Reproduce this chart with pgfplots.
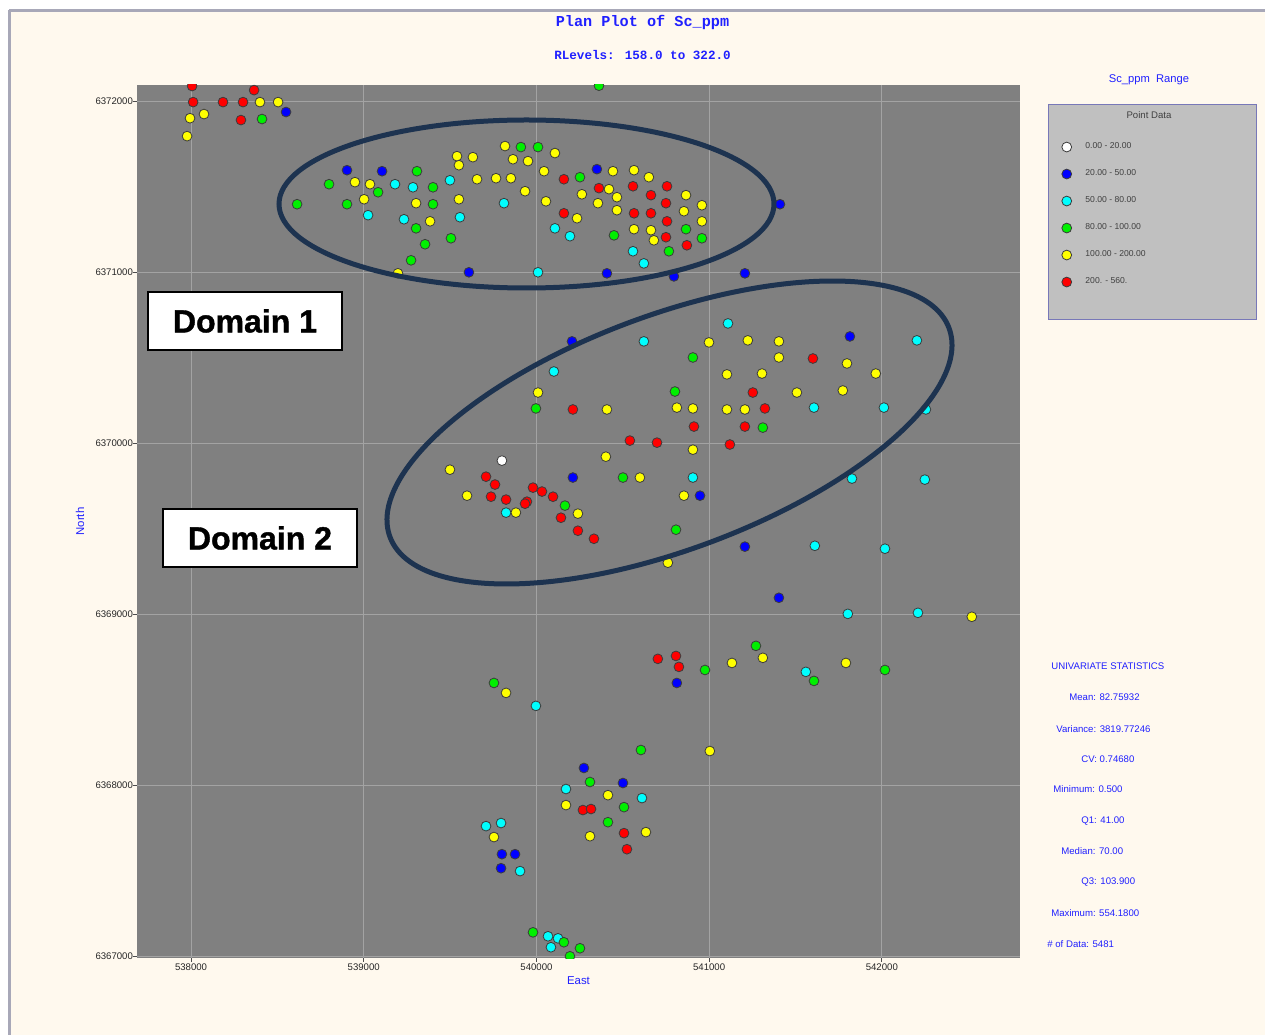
\documentclass[border=0pt]{standalone}
\usepackage{fontspec}
\setmainfont{Liberation Sans}
\newfontfamily\titlefont{Liberation Mono}
\newfontfamily\domfont[FakeBold=1.2]{Liberation Sans Bold}
\usepackage{pgfplots}
\pgfplotsset{compat=1.18}
\definecolor{cream}{HTML}{FFF9EE}
\definecolor{plotbg}{HTML}{808080}
\definecolor{gridc}{HTML}{A3A3A3}
\definecolor{txtblue}{HTML}{2020FF}
\definecolor{ptedge}{HTML}{3C3C3C}
\definecolor{ptblue}{HTML}{0000FF}
\definecolor{ptcyan}{HTML}{00FFFF}
\definecolor{ptgreen}{HTML}{00F000}
\definecolor{ptyellow}{HTML}{FFFF00}
\definecolor{ptred}{HTML}{FF0000}
\definecolor{legbg}{HTML}{C0C0C0}
\definecolor{legborder}{HTML}{7878B8}
\definecolor{legtxt}{HTML}{404040}
\definecolor{ellc}{HTML}{1D3350}
\definecolor{framec}{HTML}{A8A8B8}
\pgfplotsset{
  pt/.style={only marks, mark=*, mark size=2.45pt,
    mark options={fill=#1, draw=ptedge, line width=0.4pt, solid},
    legend image code/.code={\draw[##1] plot coordinates {(0pt,0pt)};}},
}
\begin{document}
\begin{tikzpicture}
\useasboundingbox (0,0) rectangle (632.5pt,517.5pt);
\fill[white] (0,0) rectangle (632.5pt,517.5pt);
\begin{scope}[x=0.5pt,y=-0.5pt,yshift=517.5pt]
  \fill[cream] (10,11) rectangle (1265,1035);
  \draw[framec, line width=1.2pt] (9,10.5) -- (1265,10.5);
  \draw[framec, line width=1.2pt] (9.5,10) -- (9.5,1035);
  % title
  \node[font=\titlefont\bfseries\fontsize{7.6}{9}\selectfont, text=txtblue] at (642.5,22.5) {Plan Plot of Sc\_ppm};
  \node[font=\titlefont\bfseries\fontsize{6.3}{8}\selectfont, text=txtblue] at (642.5,55) {RLevels: 158.0 to 322.0};
  % legend frame
  \node[font=\fontsize{5.6}{7}\selectfont, text=txtblue] at (1149,80) {Sc\_ppm\ \ Range};
  \filldraw[fill=legbg, draw=legborder, line width=0.5pt] (1048,105) rectangle (1256,320);
  \node[font=\fontsize{4.8}{6}\selectfont, text=legtxt] at (1149,115) {Point Data};
  % statistics
  \begin{scope}[every node/.style={anchor=west, inner sep=0pt, font=\fontsize{4.8}{6}\selectfont, text=txtblue}]
    \node at (1051,666) {UNIVARIATE STATISTICS};
    \node at (1069,697) {Mean: 82.75932};
    \node at (1056,729) {Variance: 3819.77246};
    \node at (1081,759) {CV: 0.74680};
    \node at (1053,789) {Minimum: 0.500};
    \node at (1081,821) {Q1: 41.00};
    \node at (1061,851) {Median: 70.00};
    \node at (1081,882) {Q3: 103.900};
    \node at (1051,913) {Maximum: 554.1800};
    \node at (1047,944) {\# of Data: 5481};
  \end{scope}
\end{scope}
\begin{axis}[
  at={(68.5pt,38.5pt)}, anchor=south west,
  scale only axis, width=441.5pt, height=436.5pt,
  xmin=537687, xmax=542800, ymin=6366990, ymax=6372094,
  axis background/.style={fill=plotbg},
  axis line style={draw=none},
  clip marker paths=true,
  grid=major, grid style={gridc, line width=0.5pt},
  xtick={538000,539000,540000,541000,542000},
  ytick={6367000,6368000,6369000,6370000,6371000,6372000},
  xtick pos=bottom, ytick pos=left, tick align=outside, major tick length=2pt,
  tick style={black!70, line width=0.4pt},
  scaled ticks=false,
  xticklabel style={font=\fontsize{4.8}{5}\selectfont, text=black!85, yshift=2.5pt,
    /pgf/number format/fixed, /pgf/number format/precision=0,
    /pgf/number format/1000 sep={}, /pgf/number format/assume math mode=true},
  yticklabel style={font=\fontsize{4.8}{5}\selectfont, text=black!85, xshift=3.5pt,
    /pgf/number format/fixed, /pgf/number format/precision=0,
    /pgf/number format/1000 sep={}, /pgf/number format/assume math mode=true},
  xlabel={East}, ylabel={North},
  label style={font=\fontsize{5.7}{7}\selectfont, text=txtblue},
  xlabel style={at={(axis description cs:0.5,-0.0263)}, anchor=center},
  ylabel style={at={(axis description cs:-0.0646,0.5)}, anchor=center},
  legend style={at={(axis description cs:1.0474,0.9444)}, anchor=north west,
    draw=none, fill=none, inner sep=0pt, outer sep=0pt,
    font=\fontsize{4.3}{5}\selectfont, text=legtxt,
    nodes={inner sep=0pt, minimum height=13.5pt},
    column sep=6.9pt, row sep=0pt},
  legend cell align=left,
]
\addplot[pt=white] table {
x y
539800 6369898
};
\addlegendentry{0.00 - 20.00}
\addplot[pt=ptblue] table {
x y
538550 6371936
538903 6371596
539106 6371590
540350 6371602
541410 6371397
539609 6370999
540408 6370993
540796 6370975
541207 6370993
540206 6370595
541815 6370624
540211 6369799
540947 6369693
541207 6369395
541404 6369096
540813 6368598
540275 6368101
540501 6368013
539800 6367597
539876 6367597
539795 6367515
};
\addlegendentry{20.00 - 50.00}
\addplot[pt=ptcyan] table {
x y
539181 6371514
539285 6371496
539499 6371537
539025 6371333
539812 6371403
539233 6371309
539557 6371321
540107 6371256
540194 6371210
540559 6371122
540622 6371051
540009 6370999
541109 6370700
540622 6370595
542203 6370601
540101 6370419
541607 6370208
542012 6370208
542255 6370197
540906 6369799
541827 6369793
542249 6369787
539824 6369594
541612 6369400
542018 6369383
541803 6369002
542209 6369008
541560 6368663
539997 6368464
540171 6367978
540611 6367925
539708 6367761
539795 6367779
539905 6367498
540067 6367117
540125 6367105
540084 6367053
};
\addlegendentry{50.00 - 80.00}
\addplot[pt=ptgreen] table {
x y
538411 6371895
540362 6372090
539308 6371590
538799 6371514
539083 6371467
539401 6371496
539910 6371731
540009 6371731
538614 6371397
538903 6371397
539401 6371397
539303 6371256
539355 6371163
539505 6371198
539274 6371069
540252 6371555
540449 6371215
540866 6371251
540958 6371198
540767 6371122
540906 6370501
540802 6370302
539997 6370203
541311 6370091
540501 6369799
540165 6369635
540808 6369494
541271 6368815
540976 6368674
541607 6368610
542018 6368674
539754 6368598
540605 6368206
540310 6368019
540507 6367872
540414 6367784
539980 6367140
540159 6367082
540252 6367047
540194 6367000
};
\addlegendentry{80.00 - 100.00}
\addplot[pt=ptyellow] table {
x y
538399 6371994
538504 6371994
537994 6371900
538075 6371924
537977 6371795
538949 6371526
539036 6371514
539540 6371678
539551 6371625
539632 6371672
539656 6371543
539766 6371549
539852 6371549
539818 6371737
539864 6371660
539951 6371649
539934 6371473
539002 6371426
539303 6371403
539551 6371426
539384 6371297
539198 6370993
540107 6371696
540044 6371590
540443 6371590
540565 6371596
540651 6371555
540263 6371455
540420 6371485
540466 6371438
540866 6371450
540958 6371391
540055 6371414
540356 6371403
540466 6371362
540854 6371356
540958 6371297
540235 6371315
540565 6371251
540663 6371245
540680 6371186
540999 6370589
541224 6370601
541404 6370595
541404 6370501
541798 6370466
541965 6370407
541103 6370402
541306 6370407
540009 6370296
541508 6370296
541774 6370308
540408 6370197
540813 6370208
540906 6370203
541103 6370197
541207 6370197
540906 6369962
540402 6369921
539499 6369845
539598 6369693
539881 6369594
540240 6369588
540599 6369799
540854 6369693
540761 6369301
542521 6368985
541132 6368715
541311 6368745
541792 6368715
539824 6368540
541004 6368200
540414 6367942
540171 6367884
539754 6367697
540310 6367702
540634 6367726
};
\addlegendentry{100.00 - 200.00}
\addplot[pt=ptred] table {
x y
538006 6372088
538012 6371994
538185 6371994
538301 6371994
538365 6372064
538289 6371889
540159 6371543
540362 6371491
540559 6371502
540663 6371450
540756 6371502
540565 6371344
540663 6371344
540750 6371403
540159 6371344
540756 6371297
540750 6371204
540871 6371157
541601 6370495
541253 6370296
540211 6370197
541323 6370203
540912 6370097
541207 6370097
540541 6370015
540698 6370003
541120 6369992
539708 6369804
539760 6369758
539737 6369687
539824 6369670
539980 6369740
540032 6369717
540096 6369687
539945 6369658
539934 6369646
540142 6369564
540240 6369488
540333 6369441
540703 6368739
540808 6368756
540825 6368692
540269 6367855
540316 6367861
540507 6367720
540524 6367626
};
\addlegendentry{200. - 560.}
\end{axis}
% domain ellipses
\draw[ellc, line width=2.5pt] (263.25pt,415.5pt) ellipse [x radius=123.75pt, y radius=42pt];
\draw[ellc, line width=2.5pt, rotate around={20.5:(334.75pt,301.25pt)}] (334.75pt,301.25pt) ellipse [x radius=149.2pt, y radius=58.55pt];
\begin{scope}[x=0.5pt,y=-0.5pt,yshift=517.5pt]
  \node[draw=black, line width=0.8pt, fill=white, minimum width=97pt, minimum height=29pt, inner sep=0pt, font=\domfont\fontsize{16}{18}\selectfont] at (245,321) {Domain 1};
  \node[draw=black, line width=0.8pt, fill=white, minimum width=97pt, minimum height=29pt, inner sep=0pt, font=\domfont\fontsize{16}{18}\selectfont] at (260,538) {Domain 2};
\end{scope}
\end{tikzpicture}
\end{document}
